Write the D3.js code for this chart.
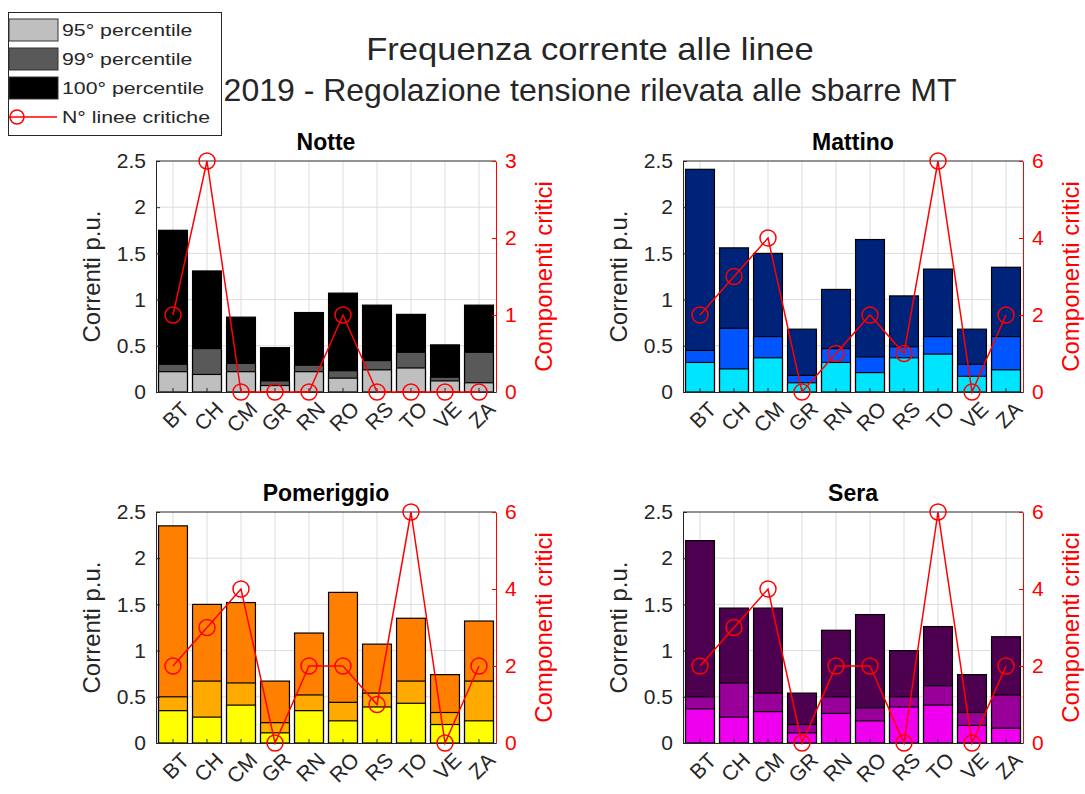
<!DOCTYPE html>
<html>
<head>
<meta charset="utf-8">
<script src="https://cdn.jsdelivr.net/npm/d3@7"></script>
<style>
  body { margin: 0; background: #fff; }
  svg { font-family: "Liberation Sans", Arial, sans-serif; }
</style>
</head>
<body>
<svg id="chart" width="1085" height="794"></svg>
<script>
// data
const categories = ["BT", "CH", "CM", "GR", "RN", "RO", "RS", "TO", "VE", "ZA"];

const notte95  = [0.22, 0.19, 0.22, 0.07, 0.22, 0.15, 0.24, 0.26, 0.12, 0.10];
const notte99  = [0.30, 0.47, 0.31, 0.12, 0.29, 0.23, 0.34, 0.43, 0.16, 0.43];
const notte100 = [1.75, 1.31, 0.81, 0.48, 0.86, 1.07, 0.94, 0.84, 0.51, 0.94];
const notteCrit = [1, 3, 0, 0, 0, 1, 0, 0, 0, 0];

const mattino95  = [0.32, 0.25, 0.37, 0.10, 0.32, 0.21, 0.37, 0.41, 0.17, 0.24];
const mattino99  = [0.45, 0.69, 0.60, 0.18, 0.47, 0.38, 0.49, 0.60, 0.30, 0.60];
const mattino100 = [2.41, 1.56, 1.50, 0.68, 1.11, 1.65, 1.04, 1.33, 0.68, 1.35];
const mattinoCrit = [2, 3, 4, 0, 1, 2, 1, 6, 0, 2];

const pomeriggio95  = [0.35, 0.28, 0.41, 0.11, 0.35, 0.24, 0.39, 0.43, 0.20, 0.24];
const pomeriggio99  = [0.50, 0.67, 0.65, 0.22, 0.52, 0.44, 0.54, 0.67, 0.33, 0.67];
const pomeriggio100 = [2.35, 1.50, 1.52, 0.67, 1.19, 1.63, 1.07, 1.35, 0.74, 1.32];
const pomeriggioCrit = [2, 3, 4, 0, 2, 2, 1, 6, 0, 2];

const sera95  = [0.37, 0.28, 0.34, 0.11, 0.32, 0.24, 0.39, 0.41, 0.19, 0.16];
const sera99  = [0.50, 0.65, 0.54, 0.20, 0.50, 0.38, 0.50, 0.62, 0.33, 0.52];
const sera100 = [2.19, 1.46, 1.46, 0.54, 1.22, 1.39, 1.00, 1.26, 0.74, 1.15];
const seraCrit = [2, 3, 4, 0, 2, 2, 0, 6, 0, 2];

const leftTicks = [0, 0.5, 1, 1.5, 2, 2.5];
const legendLabels = ["95° percentile", "99° percentile", "100° percentile", "N° linee critiche"];

const panels = [
  { title: "Notte", x: 156, y: 161, p95: notte95, p99: notte99, p100: notte100, crit: notteCrit,
    rmax: 3, rticks: [0, 1, 2, 3], colors: ["#bfbfbf", "#595959", "#000000"] },
  { title: "Mattino", x: 683, y: 161, p95: mattino95, p99: mattino99, p100: mattino100, crit: mattinoCrit,
    rmax: 6, rticks: [0, 2, 4, 6], colors: ["#00e5ff", "#0055ff", "#00237a"] },
  { title: "Pomeriggio", x: 156, y: 512, p95: pomeriggio95, p99: pomeriggio99, p100: pomeriggio100, crit: pomeriggioCrit,
    rmax: 6, rticks: [0, 2, 4, 6], colors: ["#ffff00", "#ffaa00", "#ff8000"] },
  { title: "Sera", x: 683, y: 512, p95: sera95, p99: sera99, p100: sera100, crit: seraCrit,
    rmax: 6, rticks: [0, 2, 4, 6], colors: ["#ee00ee", "#990099", "#4d0050"] }
];

const W = 340, H = 231;
const svg = d3.select("#chart");
const txt = "#262626";

panels.forEach(p => {
  const g = svg.append("g").attr("transform", `translate(${p.x},${p.y})`);

  const x = d3.scaleBand().domain(categories).range([0, W]).paddingInner(0.15).paddingOuter(0.075);
  const y = d3.scaleLinear().domain([0, 2.5]).range([H, 0]);
  const yr = d3.scaleLinear().domain([0, p.rmax]).range([H, 0]);
  const cx = d => x(d) + x.bandwidth() / 2;

  // grid
  g.append("g").selectAll("line").data(leftTicks.slice(1, -1)).join("line")
    .attr("x1", 0).attr("x2", W).attr("y1", d => y(d)).attr("y2", d => y(d))
    .attr("stroke", "#dcdcdc").attr("stroke-width", 1);
  g.append("g").selectAll("line").data(categories).join("line")
    .attr("x1", cx).attr("x2", cx).attr("y1", 0).attr("y2", H)
    .attr("stroke", "#dcdcdc").attr("stroke-width", 1);

  // overlaid bars: 100 first, then 99, then 95
  [[p.p100, p.colors[2]], [p.p99, p.colors[1]], [p.p95, p.colors[0]]].forEach(([vals, col]) => {
    g.append("g").selectAll("rect").data(vals).join("rect")
      .attr("x", (d, i) => x(categories[i]))
      .attr("y", d => y(d))
      .attr("width", x.bandwidth())
      .attr("height", d => H - y(d))
      .attr("fill", col)
      .attr("stroke", "#000").attr("stroke-width", 1.2);
  });

  // box
  g.append("line").attr("x1", 0).attr("x2", W).attr("y1", 0).attr("y2", 0).attr("stroke", txt);

  // left axis
  const ax = g.append("g").call(d3.axisLeft(y).tickValues(leftTicks).tickFormat(d3.format("~g")).tickSizeInner(-4).tickSizeOuter(0).tickPadding(10));
  ax.select(".domain").attr("stroke", txt);
  ax.selectAll(".tick line").attr("stroke", txt);
  ax.selectAll("text").attr("fill", txt).style("font-size", "21px");

  // right axis
  const ar = g.append("g").attr("transform", `translate(${W},0)`)
    .call(d3.axisRight(yr).tickValues(p.rticks).tickFormat(d3.format("~g")).tickSizeInner(-4).tickSizeOuter(0).tickPadding(9));
  ar.select(".domain").attr("stroke", "#ff0000");
  ar.selectAll(".tick line").attr("stroke", "#ff0000");
  ar.selectAll("text").attr("fill", "#ff0000").style("font-size", "21px");

  // bottom axis
  const ab = g.append("g").attr("transform", `translate(0,${H})`)
    .call(d3.axisBottom(x).tickSizeInner(-4).tickSizeOuter(0).tickPadding(8));
  ab.select(".domain").attr("stroke", txt);
  ab.selectAll(".tick line").attr("stroke", txt);
  ab.selectAll("text").attr("fill", txt).style("font-size", "21px")
    .attr("text-anchor", "end").attr("dy", "0.6em")
    .attr("transform", "translate(3,4) rotate(-45)");

  // critical lines
  const line = d3.line().x((d, i) => cx(categories[i])).y(d => yr(d));
  g.append("path").datum(p.crit).attr("d", line)
    .attr("fill", "none").attr("stroke", "#ff0000").attr("stroke-width", 1.5);
  g.append("g").selectAll("circle").data(p.crit).join("circle")
    .attr("cx", (d, i) => cx(categories[i])).attr("cy", d => yr(d)).attr("r", 8)
    .attr("fill", "none").attr("stroke", "#ff0000").attr("stroke-width", 1.5);

  // titles and labels
  g.append("text").attr("x", W / 2).attr("y", -11).attr("text-anchor", "middle")
    .attr("fill", "#000").style("font-size", "23px").style("font-weight", "bold").text(p.title);
  g.append("text").attr("transform", `translate(-56,${H / 2}) rotate(-90)`).attr("text-anchor", "middle")
    .attr("fill", txt).style("font-size", "24px").text("Correnti p.u.");
  g.append("text").attr("transform", `translate(${W + 56},${H / 2}) rotate(-90)`).attr("text-anchor", "middle")
    .attr("fill", "#ff0000").style("font-size", "24px").text("Componenti critici");
});

// super title
svg.append("text").attr("transform", "translate(590,60) scale(1.08,1)").attr("text-anchor", "middle")
  .attr("fill", txt).style("font-size", "32px").text("Frequenza corrente alle linee");
svg.append("text").attr("x", 590).attr("y", 101).attr("text-anchor", "middle")
  .attr("fill", txt).style("font-size", "32px").text("2019 - Regolazione tensione rilevata alle sbarre MT");

// legend
const lg = svg.append("g");
lg.append("rect").attr("x", 8.5).attr("y", 12.5).attr("width", 213).attr("height", 123)
  .attr("fill", "#fff").attr("stroke", txt);
const legColors = panels[0].colors;
const legY = d3.scalePoint().domain(legendLabels).range([30, 117]);
legendLabels.slice(0, 3).forEach((lab, i) => {
  lg.append("rect").attr("x", 9).attr("y", legY(lab) - 11).attr("width", 49).attr("height", 22)
    .attr("fill", legColors[i]).attr("stroke", "#333").attr("stroke-width", 1);
});
const lastY = legY(legendLabels[3]);
lg.append("line").attr("x1", 9).attr("x2", 57).attr("y1", lastY).attr("y2", lastY)
  .attr("stroke", "#ff0000").attr("stroke-width", 1.5);
lg.append("circle").attr("cx", 17).attr("cy", lastY).attr("r", 7)
  .attr("fill", "none").attr("stroke", "#ff0000").attr("stroke-width", 1.5);
lg.selectAll("text.lab").data(legendLabels).join("text").attr("class", "lab")
  .attr("transform", d => `translate(62,${legY(d)}) scale(1.33,1)`).attr("dy", "0.35em")
  .attr("fill", txt).style("font-size", "16px").text(d => d);
</script>
</body>
</html>
